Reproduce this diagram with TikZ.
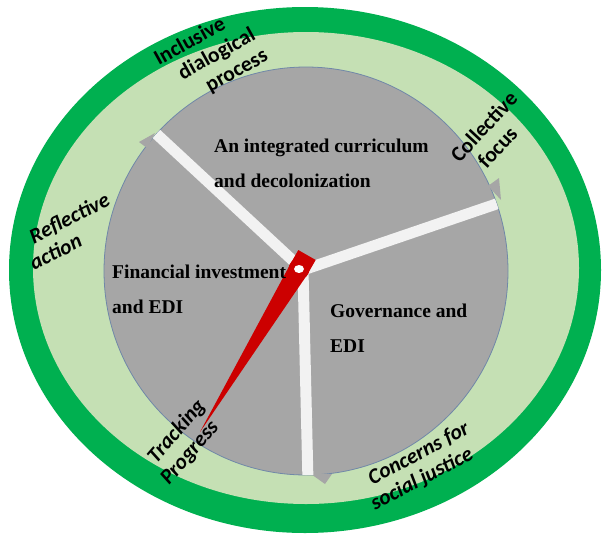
\documentclass[tikz,border=0pt]{standalone}
\usepackage{fontspec}
\setmainfont{Liberation Serif}
\newfontfamily\cyclefont{Carlito}
\usepackage{tikz}
\usetikzlibrary{positioning, calc}

\definecolor{ringdark}{HTML}{00B050}
\definecolor{ringlight}{HTML}{C5E0B4}
\definecolor{disc}{HTML}{A6A6A6}
\definecolor{discedge}{HTML}{7088A8}
\definecolor{spokecol}{HTML}{F2F2F2}
\definecolor{handred}{HTML}{CC0000}

\def\ringfont{\cyclefont\bfseries\fontsize{21.5}{24}\selectfont}

\tikzset{
    spoke/.style={spokecol, line width=11pt, line cap=round},
    sector/.style={font=\bfseries\fontsize{19.5}{35}\selectfont, align=left, anchor=base west, inner sep=0pt},
    ringlabel/.style={align=left, anchor=base west, inner sep=0pt},
}

\begin{document}
\begin{tikzpicture}[x=1pt, y=-1pt]
    \useasboundingbox (0,0) rectangle (602,538);

    % rings
    \fill[ringdark] (305,270) ellipse [x radius=296pt, y radius=263pt];
    \fill[ringlight] (306,268) ellipse [x radius=273pt, y radius=236pt];
    \filldraw[fill=disc, draw=discedge, line width=0.8pt]
        (306,271) ellipse [x radius=202pt, y radius=204pt];

    \coordinate (hub) at (303,270);
    \coordinate (tipA) at (150,128);
    \coordinate (tipB) at (508,200);
    \coordinate (tipC) at (308,482);

    % small barbs at the end of each sector
    \fill[disc] (155,133) -- (139,142) -- (147,148) -- cycle;
    \fill[disc] (499,178) -- (488,186) -- (501,200) -- cycle;
    \fill[disc] (311,474) -- (325,484) -- (332,474) -- cycle;

    % spokes
    \begin{scope}
        \clip (306,271) ellipse [x radius=202pt, y radius=204pt];
        \foreach \e in {tipA, tipB, tipC}
        {
            \draw[spoke] (hub) -- (\e);
        }
    \end{scope}

    % hand
    \coordinate (pivot) at (299,269);
    \coordinate (handtail) at (307,255);
    \coordinate (handtip) at (200,432);
    \fill[handred]
        ($(handtail)!10pt!90:(pivot)$) -- ($(pivot)!10pt!90:(handtip)$) -- (handtip)
        -- ($(pivot)!10pt!-90:(handtip)$) -- ($(handtail)!10pt!-90:(pivot)$) -- cycle;
    \fill[handred] (pivot) circle (10.5pt);
    \fill[white] (pivot) ellipse [x radius=5pt, y radius=4pt];

    % sector texts (anchored on the last line)
    \node[sector] (curr) at (214,187) {An integrated curriculum\\and decolonization};
    \node[sector] (fin) at (112,313) {Financial investment\\and EDI};
    \node[sector] (gov) at (330,352) {Governance and\\EDI};

    % ring texts (anchored on the last line)
    \foreach \nm/\px/\py/\ang/\sh/\txt in {
        incl/182/108/29/upshape/{Inclusive\\\hspace*{14pt}dialogical\\\hspace*{32pt}process},
        coll/477/180/47/upshape/{Collective\\\hspace*{14pt}focus},
        refl/34/271/27/itshape/{\hspace*{12pt}Reflective\\action},
        track/169/486/49/itshape/{\hspace*{8pt}Tracking\\Progress},
        conc/375/511/28/itshape/{\hspace*{10pt}Concerns for\\social justice}}{

        \node[ringlabel, rotate=\ang, font=\ringfont\csname\sh\endcsname] (\nm) at (\px,\py) {\txt};
    }
\end{tikzpicture}
\end{document}
